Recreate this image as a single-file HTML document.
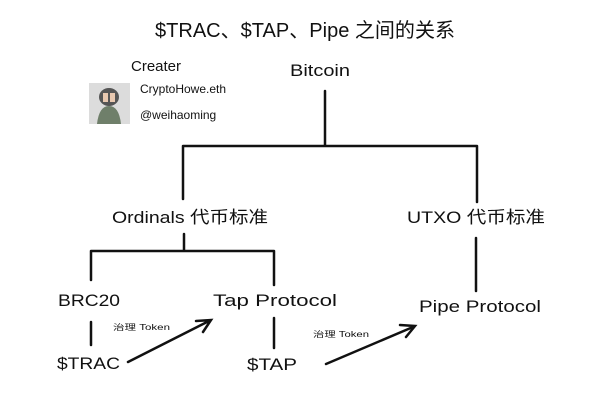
<!DOCTYPE html>
<html><head><meta charset="utf-8"><style>
body{margin:0;background:#fff;}
svg{display:block}
text{font-family:"Liberation Sans","Noto Sans CJK SC",sans-serif;fill:#111}
</style></head><body>
<svg width="600" height="407" viewBox="0 0 600 407" xmlns="http://www.w3.org/2000/svg">
<text x="155" y="37" font-size="20" textLength="300" lengthAdjust="spacingAndGlyphs">$TRAC、$TAP、Pipe 之间的关系</text>
<text x="131" y="71" font-size="15">Creater</text>
<rect x="89" y="83" width="41" height="41" fill="#dcdcdc"/>
<ellipse cx="109" cy="97" rx="10" ry="9" fill="#555"/>
<rect x="103" y="93" width="5" height="9" fill="#e8c8b0"/><rect x="110" y="93" width="5" height="9" fill="#e8c8b0"/>
<path d="M97 124 Q99 106 109 106 Q119 106 121 124 Z" fill="#6f7f6a"/>
<text x="140" y="93" font-size="12">CryptoHowe.eth</text>
<text x="140" y="119" font-size="12">@weihaoming</text>
<text x="290" y="76" font-size="17" textLength="60" lengthAdjust="spacingAndGlyphs">Bitcoin</text>
<g stroke="#111" stroke-width="2.5" fill="none" stroke-linecap="round">
<path d="M325 91V146M183 146H477M183 146V199M477 146V202"/>
<path d="M184 234V251M91 251H274M91 251V280M274 251V285"/>
<path d="M91 322V345M274 318V348M476 238V291"/>
<path d="M128 362L209 321M196 321L211 320L203 332"/>
<path d="M326 364L413 327M400 325L415 326L406 337"/>
</g>
<text x="112" y="223" font-size="17" textLength="156" lengthAdjust="spacingAndGlyphs">Ordinals 代币标准</text>
<text x="407" y="223" font-size="17" textLength="138" lengthAdjust="spacingAndGlyphs">UTXO 代币标准</text>
<text x="58" y="306" font-size="17" textLength="62" lengthAdjust="spacingAndGlyphs">BRC20</text>
<text x="213" y="306" font-size="17" textLength="124" lengthAdjust="spacingAndGlyphs">Tap Protocol</text>
<text x="419" y="312" font-size="17" textLength="122" lengthAdjust="spacingAndGlyphs">Pipe Protocol</text>
<text x="57" y="369" font-size="17" textLength="63" lengthAdjust="spacingAndGlyphs">$TRAC</text>
<text x="247" y="370" font-size="17" textLength="50" lengthAdjust="spacingAndGlyphs">$TAP</text>
<text x="113" y="330" font-size="8" textLength="57" lengthAdjust="spacingAndGlyphs">治理 Token</text>
<text x="313" y="337" font-size="8" textLength="56" lengthAdjust="spacingAndGlyphs">治理 Token</text>
</svg>
</body></html>
